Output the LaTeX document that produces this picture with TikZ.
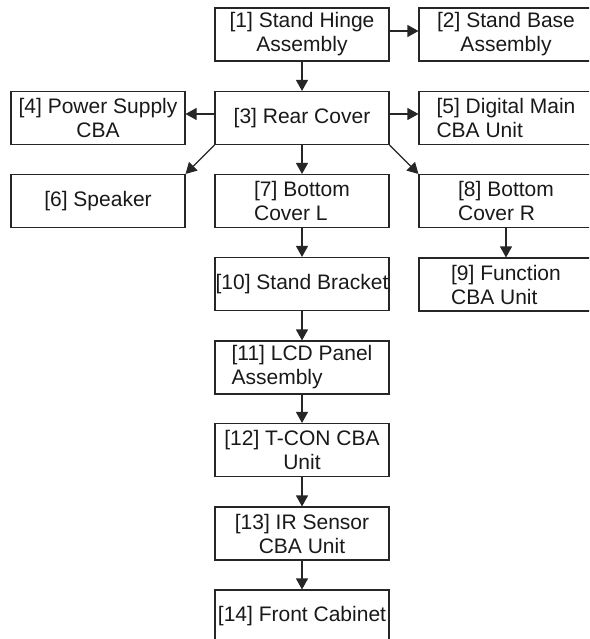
\documentclass[tikz,border=0pt]{standalone}
\usepackage{fontspec}
\setmainfont{Liberation Sans}
\usetikzlibrary{arrows.meta}
\begin{document}
\begin{tikzpicture}[x=1pt,y=-1pt,
  box/.style={draw=black!85,line width=1.1pt,minimum width=174pt,minimum height=53pt,inner sep=0pt,
    font=\fontsize{21}{24}\selectfont,text=black!90},
  conn/.style={draw=black!85,line width=1.1pt,-{Triangle[length=11pt,width=12pt]}}]
\useasboundingbox (0,0) rectangle (589,639);
\clip (0,0) rectangle (589,639);
\node[box,align=center] (n1) at (302,34.5) {[1] Stand Hinge\\Assembly};
\node[box,align=center] (n2) at (506,34.5) {[2] Stand Base\\Assembly};
\node[box,align=center] (n4) at (98,118) {[4] Power Supply\\CBA};
\node[box] (n3) at (302,118) {[3] Rear Cover};
\node[box,align=left] (n5) at (506,118) {[5] Digital Main\\CBA Unit};
\node[box] (n6) at (98,201) {[6] Speaker};
\node[box,align=left] (n7) at (302,201) {[7] Bottom\\Cover L};
\node[box,align=left] (n8) at (506,201) {[8] Bottom\\Cover R};
\node[box] (n10) at (302,284) {[10] Stand Bracket};
\node[box,align=left] (n9) at (506,284.5) {[9] Function\\CBA Unit};
\node[box,align=left] (n11) at (302,367.5) {[11] LCD Panel\\Assembly};
\node[box,align=center] (n12) at (302,450) {[12] T-CON CBA\\Unit};
\node[box,align=center] (n13) at (302,533.5) {[13] IR Sensor\\CBA Unit};
\node[box] (n14) at (302,616.5) {[14] Front Cabinet};
\draw[conn] ([yshift=3.5pt]n1.east) -- ([yshift=3.5pt]n2.west);
\draw[conn] (n1) -- (n3);
\draw[conn] ([yshift=4pt]n3.west) -- ([yshift=4pt]n4.east);
\draw[conn] ([yshift=4pt]n3.east) -- ([yshift=4pt]n5.west);
\draw[conn] (n3.south west) -- (n6.north east);
\draw[conn] (n3) -- (n7);
\draw[conn] (n3.south east) -- (n8.north west);
\draw[conn] (n8) -- (n9);
\draw[conn] (n7) -- (n10);
\draw[conn] (n10) -- (n11);
\draw[conn] (n11) -- (n12);
\draw[conn] (n12) -- (n13);
\draw[conn] (n13) -- (n14);
\end{tikzpicture}
\end{document}
